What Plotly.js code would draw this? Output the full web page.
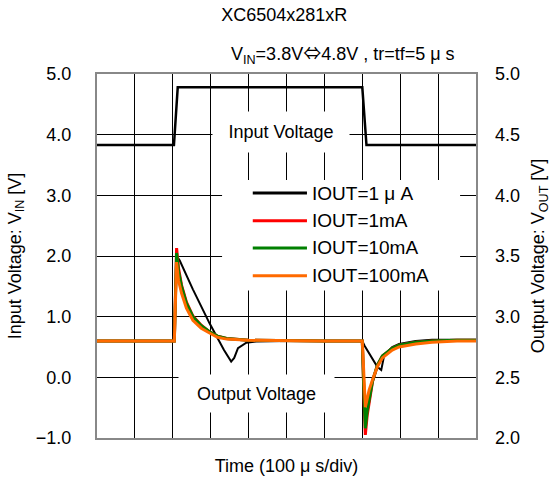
<!DOCTYPE html>
<html>
<head>
<meta charset="utf-8">
<script src="https://cdn.plot.ly/plotly-3.0.1.min.js"></script>
<style>html,body{margin:0;padding:0;background:#fff;}#chart{width:552px;height:480px;}</style>
</head>
<body>
<div id="chart"></div>
<script>
// Input voltage (left axis, V)
const inTime = [0, 203, 213, 700, 711, 1000];
const inVolt = [3.83, 3.83, 4.78, 4.78, 3.83, 3.83];

// Output voltage (right axis, V)
const t1uA = [0, 204, 210, 218, 253, 297, 335, 354, 362, 372, 394, 420, 500, 600, 700, 706, 713, 727, 740, 750, 758, 779, 797, 841, 884, 1000];
const v1uA = [2.80, 2.80, 3.50, 3.465, 3.225, 2.945, 2.725, 2.63, 2.66, 2.74, 2.785, 2.795, 2.80, 2.80, 2.80, 2.76, 2.725, 2.66, 2.585, 2.56, 2.685, 2.75, 2.775, 2.80, 2.81, 2.81];

const tLoad = [0, 204, 210, 215, 223, 236, 253, 275, 297, 318, 342, 400, 600, 700, 703, 708, 713, 718, 727, 740, 753, 779, 797, 841, 884, 950, 1000];
const v1mA = [2.80, 2.80, 3.565, 3.40, 3.26, 3.12, 3.005, 2.93, 2.875, 2.84, 2.82, 2.805, 2.80, 2.80, 2.475, 2.025, 2.19, 2.30, 2.465, 2.60, 2.675, 2.74, 2.765, 2.79, 2.80, 2.805, 2.805];
const v10mA = [2.80, 2.80, 3.525, 3.375, 3.25, 3.11, 3.00, 2.925, 2.875, 2.84, 2.82, 2.805, 2.80, 2.80, 2.50, 2.08, 2.225, 2.315, 2.47, 2.60, 2.675, 2.74, 2.765, 2.79, 2.80, 2.805, 2.805];
const v100mA = [2.80, 2.80, 3.45, 3.30, 3.195, 3.07, 2.97, 2.905, 2.865, 2.83, 2.815, 2.805, 2.80, 2.80, 2.60, 2.255, 2.325, 2.395, 2.48, 2.59, 2.66, 2.725, 2.75, 2.775, 2.79, 2.80, 2.80];

const seriesNames = ['IOUT=1 \u03bc A', 'IOUT=1mA', 'IOUT=10mA', 'IOUT=100mA'];
const seriesColors = ['#000000', '#ff0000', '#008000', '#ff6a00'];
const leftTicks = [-1, 0, 1, 2, 3, 4, 5];
const rightTicks = [2.0, 2.5, 3.0, 3.5, 4.0, 4.5, 5.0];

const FONT = 'Liberation Sans, Arial, sans-serif';
const CJK = 'Noto Sans CJK JP';

const seriesX = [t1uA, tLoad, tLoad, tLoad];
const seriesY = [v1uA, v1mA, v10mA, v100mA];
const seriesW = [2, 3, 3, 3];

const traces = [
  {x: inTime, y: inVolt, yaxis: 'y', mode: 'lines', line: {color: '#000', width: 2.5}, showlegend: false, hoverinfo: 'skip'}
];
for (let i = 0; i < 4; i++) {
  traces.push({x: seriesX[i], y: seriesY[i], yaxis: 'y2', mode: 'lines', name: seriesNames[i],
               line: {color: seriesColors[i], width: seriesW[i]}, showlegend: false});
}

// Hand-made legend (longer line samples, as in the reference)
const legRows = [0.673, 0.597, 0.522, 0.446];
const shapes = [
  {type: 'rect', xref: 'paper', yref: 'paper', x0: 0.33, x1: 0.958, y0: 0.405, y1: 0.709,
   fillcolor: '#fff', line: {width: 0}, layer: 'above'}
];
const annotations = [
  {xref: 'paper', yref: 'paper', x: 0.648, y: 1.058, xanchor: 'center', yanchor: 'middle', showarrow: false,
   text: 'V<sub>IN</sub>=3.8V<span style="font-family:' + CJK + '">\u21d4</span>4.8V , tr=tf=5 \u03bc s', font: {family: FONT, size: 18}},
  {xref: 'x', yref: 'y', x: 485, y: 4.04, showarrow: false, text: 'Input Voltage',
   bgcolor: '#fff', width: 132, height: 36, borderpad: 2, font: {family: FONT, size: 18}},
  {xref: 'x', yref: 'y', x: 422, y: -0.26, showarrow: false, text: 'Output Voltage',
   bgcolor: '#fff', width: 151, height: 33, borderpad: 2, font: {family: FONT, size: 18}}
];
for (let i = 0; i < 4; i++) {
  shapes.push({type: 'line', xref: 'paper', yref: 'paper', x0: 0.411, x1: 0.554, y0: legRows[i], y1: legRows[i],
               line: {color: seriesColors[i], width: 3}, layer: 'above'});
  annotations.push({xref: 'paper', yref: 'paper', x: 0.562, y: legRows[i], xanchor: 'left', yanchor: 'middle',
                    showarrow: false, text: seriesNames[i], font: {family: FONT, size: 19}});
}

const layout = {
  width: 552, height: 480,
  margin: {l: 97, r: 76, t: 74, b: 42},
  paper_bgcolor: '#fff', plot_bgcolor: '#fff',
  font: {family: FONT, size: 18, color: '#000'},
  showlegend: false,
  title: {text: 'XC6504x281xR', font: {family: FONT, size: 18, color: '#000'}, x: 0.515, xanchor: 'center', y: 0.97, yanchor: 'middle'},
  xaxis: {
    range: [0, 1000], dtick: 100, tick0: 0, showticklabels: false, ticks: '',
    showgrid: true, gridcolor: '#000', gridwidth: 1, zeroline: false,
    showline: true, mirror: true, linecolor: '#888', linewidth: 2,
    title: {text: 'Time (100 \u03bc s/div)', font: {family: FONT, size: 18}, standoff: 20}
  },
  yaxis: {
    range: [-1, 5], tickvals: leftTicks, tickformat: '.1f', ticks: '',
    showgrid: true, gridcolor: '#000', gridwidth: 1, zeroline: false,
    showline: true, mirror: true, linecolor: '#888', linewidth: 2,
    ticklabelstandoff: 20,
    title: {text: 'Input Voltage: V<sub>IN</sub> [V]', font: {family: FONT, size: 18}, standoff: 10}
  },
  yaxis2: {
    range: [2, 5], tickvals: rightTicks, tickformat: '.1f', ticks: '',
    overlaying: 'y', side: 'right', showgrid: false, zeroline: false,
    ticklabelstandoff: 18,
    title: {text: 'Output Voltage: V<sub>OUT</sub> [V]', font: {family: FONT, size: 18}, standoff: 12}
  },
  shapes: shapes,
  annotations: annotations
};

Plotly.newPlot('chart', traces, layout, {displayModeBar: false, staticPlot: true});
</script>
</body>
</html>
